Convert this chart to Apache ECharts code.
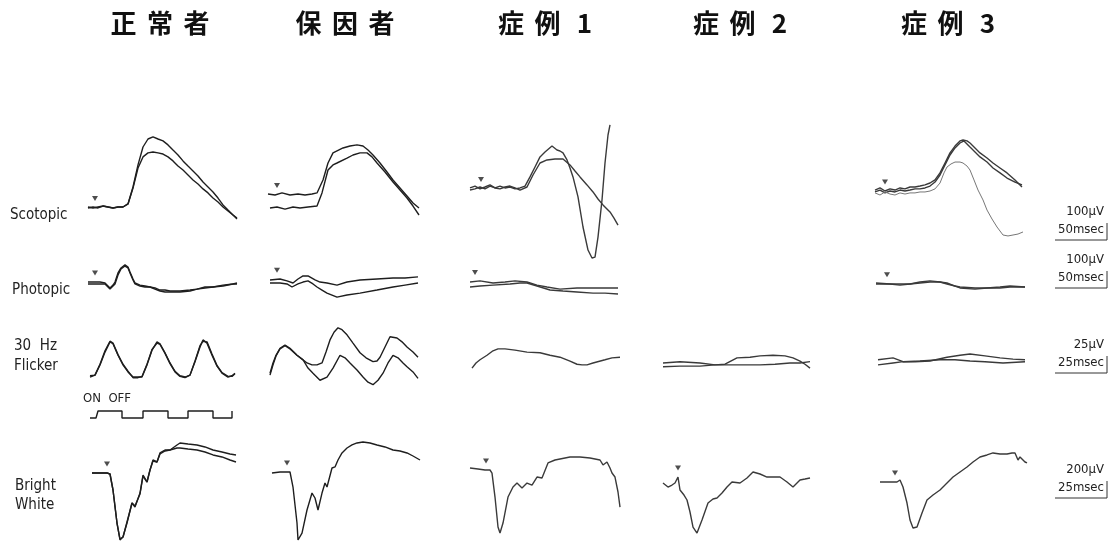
<!DOCTYPE html>
<html>
<head>
<meta charset="utf-8">
<script src="https://cdn.jsdelivr.net/npm/echarts@6/dist/echarts.min.js"></script>
<style>
html,body{margin:0;padding:0;background:#fff;}
#main{width:1112px;height:542px;}
</style>
</head>
<body>
<div id="main"></div>
<script>
// column titles and row labels
var colTitles = ['正常者', '保因者', '症例 1', '症例 2', '症例 3'];
var rowNames = [['Scotopic'], ['Photopic'], ['30  Hz', 'Flicker'], ['Bright', 'White']];
var scaleAmp = ['100\u03bcV', '100\u03bcV', '25\u03bcV', '200\u03bcV'];
var scaleTime = ['50msec', '50msec', '25msec', '25msec'];

// traces: [time ms, amplitude uV]
// Scotopic
var scotNormalA = [[0,0],[5,-6],[10,0],[15,6],[20,0],[25,-6],[30,0],[35,0],[40,19],[45,125],[50,263],[55,375],[60,425],[65,438],[70,425],[75,413],[80,388],[85,356],[90,325],[95,288],[100,256],[105,225],[110,194],[115,156],[120,125],[125,94],[130,56],[135,13],[140,-19],[145,-50],[149,-75]];
var scotNormalB = [[0,-6],[5,0],[10,-6],[15,6],[20,0],[25,-6],[30,0],[35,0],[40,19],[45,119],[50,244],[55,313],[60,338],[65,344],[70,338],[75,331],[80,313],[85,288],[90,256],[95,231],[100,200],[105,169],[110,144],[115,113],[120,88],[125,56],[130,31],[135,0],[140,-25],[145,-50],[149,-69]];
var scotCarrierA = [[0,81],[7,75],[14,88],[22,75],[30,81],[37,75],[44,81],[49,88],[55,169],[60,275],[65,338],[75,369],[82,381],[89,388],[95,381],[100,356],[105,325],[112,275],[119,219],[125,169],[132,119],[139,69],[145,25],[151,-6]];
var scotCarrierB = [[2,-6],[9,0],[17,-13],[25,0],[32,-6],[40,0],[49,6],[54,88],[60,231],[65,263],[69,275],[79,306],[85,325],[92,338],[99,338],[104,313],[109,275],[117,219],[125,156],[132,106],[139,56],[145,6],[151,-50]];
var scotCase1A = [[0,119],[5,131],[10,113],[15,125],[20,138],[25,119],[30,131],[35,119],[40,125],[45,113],[50,119],[55,131],[60,188],[65,250],[70,313],[75,344],[82,381],[87,356],[90,350],[93,338],[97,294],[100,244],[103,188],[108,63],[113,-125],[118,-269],[122,-319],[125,-313],[128,-188],[132,44],[135,275],[138,450],[140,513]];
var scotCase1B = [[0,106],[5,113],[10,125],[15,113],[20,131],[25,119],[30,113],[35,125],[40,131],[45,119],[50,106],[57,125],[63,200],[70,275],[77,294],[85,300],[93,300],[100,263],[105,225],[110,188],[117,138],[123,94],[128,50],[133,13],[140,-31],[144,-69],[148,-113]];
var scotCase3A = [[0,106],[5,119],[10,100],[15,113],[20,106],[25,119],[30,113],[35,125],[40,125],[45,131],[50,138],[55,150],[60,169],[65,213],[70,275],[75,338],[80,381],[85,413],[88,419],[92,413],[95,400],[100,369],[105,338],[112,306],[118,275],[125,244],[132,213],[140,169],[147,125]];
var scotCase3B = [[0,94],[5,106],[10,88],[15,100],[20,94],[25,106],[30,100],[35,106],[40,113],[45,113],[50,119],[55,131],[60,156],[65,200],[70,263],[75,325],[80,369],[85,400],[89,413],[92,394],[95,375],[100,344],[105,313],[112,281],[118,244],[125,213],[132,181],[140,156],[147,138]];
var scotCase3C = [[0,88],[5,75],[10,94],[15,81],[20,75],[25,88],[30,81],[35,88],[40,88],[45,94],[50,94],[55,100],[60,113],[65,150],[69,213],[72,250],[76,269],[80,281],[85,281],[88,275],[92,256],[95,231],[99,169],[103,106],[108,44],[112,-19],[117,-75],[122,-125],[128,-175],[133,-181],[138,-175],[143,-169],[148,-156]];

// Photopic
var photNormalA = [[0,6],[7,6],[12,6],[17,0],[22,-31],[25,-13],[27,6],[30,63],[33,94],[37,113],[40,100],[42,69],[45,25],[47,0],[52,-13],[57,-19],[62,-25],[67,-38],[72,-50],[77,-56],[82,-56],[92,-56],[102,-50],[109,-38],[117,-31],[125,-25],[135,-19],[145,-6],[149,-6]];
var photNormalB = [[0,-6],[7,-6],[12,-6],[17,-6],[22,-38],[25,-19],[27,-6],[30,50],[33,88],[37,106],[40,94],[42,63],[45,19],[47,-6],[52,-19],[57,-25],[62,-25],[67,-31],[72,-44],[77,-44],[82,-50],[92,-50],[102,-44],[109,-38],[117,-25],[125,-25],[135,-13],[145,-6],[149,0]];
var photCarrierA = [[2,19],[12,25],[19,13],[25,0],[30,25],[35,44],[40,44],[47,19],[52,6],[59,0],[69,-13],[79,6],[92,19],[109,25],[125,31],[137,31],[150,38]];
var photCarrierB = [[2,0],[12,0],[19,-6],[24,-25],[30,-6],[35,6],[40,13],[45,-6],[49,-25],[54,-44],[59,-63],[69,-88],[79,-75],[92,-63],[109,-44],[125,-25],[137,-13],[150,0]];
var photCase1A = [[0,6],[10,13],[23,0],[35,6],[45,13],[57,6],[67,-13],[77,-25],[90,-38],[107,-31],[123,-31],[135,-31],[148,-31]];
var photCase1B = [[0,-25],[10,-19],[23,-13],[40,-6],[50,0],[57,0],[67,-19],[80,-44],[93,-50],[107,-56],[123,-63],[135,-63],[148,-69]];
var photCase3A = [[1,0],[15,-6],[25,-6],[35,-6],[45,6],[55,13],[65,6],[72,0],[80,-19],[85,-25],[100,-31],[112,-31],[125,-25],[135,-19],[150,-25]];
var photCase3B = [[1,-6],[15,-6],[25,-13],[35,-6],[45,0],[55,6],[65,6],[72,-6],[80,-19],[85,-31],[100,-38],[112,-31],[125,-31],[135,-25],[150,-25]];

// 30 Hz flicker
var flkNormalA = [[1,-11],[3.5,-8],[6,8],[8.5,28],[11,44],[12.5,41],[15,23],[17.5,8],[20,-3],[22.5,-11],[25,-11],[27,-11],[29.5,8],[32,31],[34.5,44],[36,41],[38.5,27],[41,11],[43.5,-2],[46,-9],[48.5,-11],[51,-8],[53.5,13],[56,36],[57.5,47],[59.5,42],[62,23],[64.5,6],[67,-5],[70,-11],[72,-9],[73.5,-5]];
var flkNormalB = [[1,-9],[3.5,-8],[6,9],[8.5,30],[11,45],[12.5,42],[15,24],[17.5,9],[20,-2],[22.5,-12],[25,-12],[27,-10],[29.5,9],[32,32],[34.5,42],[36,40],[38.5,26],[41,10],[43.5,-3],[46,-10],[48.5,-12],[51,-8],[53.5,14],[56,38],[57.5,45],[59.5,44],[62,25],[64.5,7],[67,-4],[70,-10],[72,-10],[73.5,-6]];
var flkCarrierA = [[1,-5],[2.5,11],[4,23],[6,34],[8.5,39],[11,34],[14.5,23],[17,17],[19.5,11],[22,8],[24.5,8],[27,11],[29,28],[31,47],[33,59],[35,66],[37,63],[39.5,55],[42.5,42],[46,27],[49,19],[52.5,13],[54.5,14],[56,20],[58.5,36],[61,52],[64.5,50],[67,44],[69.5,36],[72.5,28],[75,20]];
var flkCarrierB = [[1,-8],[2.5,8],[4,22],[6,33],[8.5,38],[11,33],[14.5,23],[17.5,16],[20,3],[22.5,-5],[26,-16],[29.5,-11],[32.5,3],[36,23],[38.5,19],[41,11],[44.5,0],[47.5,-11],[50,-19],[52.5,-23],[55,-16],[57.5,-5],[60,11],[62.5,23],[65,19],[67.5,11],[69.5,5],[72.5,-3],[75,-13]];
var flkCase1 = [[1,3],[3,11],[5,16],[8.5,23],[11.5,30],[14,33],[17.5,33],[22.5,31],[28.5,28],[35,27],[40,23],[45,20],[50,14],[53.5,9],[56,8],[58.5,8],[61.5,11],[67.5,16],[71,19],[75,20]];
var flkCase2A = [[0,11],[8.5,13],[18.5,11],[26,8],[31,9],[37,19],[43.5,20],[48.5,22],[55,23],[61,22],[65,19],[68.5,14],[71,9],[73.5,3]];
var flkCase2B = [[0,5],[8.5,6],[18.5,6],[26,8],[33.5,8],[41,8],[48.5,8],[56,9],[63.5,11],[68.5,11],[73.5,13]];
var flkCase3A = [[1.5,16],[9,19],[14,13],[20,13],[27.5,14],[36,20],[42.5,23],[47.5,25],[55,22],[62.5,19],[69,17],[75,16]];
var flkCase3B = [[1.5,8],[9,11],[14,13],[22.5,14],[32.5,16],[40,16],[47.5,14],[55,13],[64,11],[75,13]];
// flicker stimulus (0 = off, 1 = on)
var stimOnOff = [[1,0],[4,0],[5,1],[17,1],[17,0],[27.5,0],[27.5,1],[40,1],[40,0],[50,0],[50,1],[62.5,1],[62.5,0],[72,0],[72,1]];

// Bright white
var bwNormalA = [[2,-38],[6,-38],[9.5,-38],[11,-50],[12.5,-250],[14.5,-663],[16,-875],[17.5,-838],[19.5,-663],[22,-413],[23.5,-463],[24.5,-475],[26,-288],[27.5,-63],[29.5,-150],[31,0],[32.5,125],[34.5,100],[36,213],[38.5,250],[41,250],[44.5,313],[46,338],[50,325],[54.5,313],[58.5,288],[62.5,250],[67,225],[71,200],[74,188]];
var bwNormalB = [[2,-38],[6,-38],[9.5,-38],[11,-50],[12.5,-250],[14.5,-663],[16,-863],[17.5,-838],[19.5,-650],[22,-413],[23.5,-450],[24.5,-475],[26,-300],[27.5,-75],[29.5,-150],[31,0],[32.5,113],[34.5,100],[36,200],[38.5,238],[41,250],[44.5,275],[46,275],[50,263],[54.5,250],[58.5,225],[62.5,188],[67,163],[71,125],[74,100]];
var bwCarrier = [[2,-38],[6,-25],[9.5,-25],[11,-25],[12.5,-213],[14.5,-663],[15,-875],[17,-788],[19.5,-500],[22,-288],[23.5,-350],[25,-500],[27,-288],[28.5,-163],[29.5,-213],[32,25],[33.5,38],[35,125],[37,213],[39.5,275],[42,313],[44.5,338],[47.5,350],[51,338],[54.5,313],[58.5,288],[62.5,250],[66,238],[69.5,213],[72.5,175],[76,125]];
var bwCase1 = [[0,25],[4,13],[7.5,0],[10,0],[11,-38],[12.5,-338],[14,-713],[15,-788],[16.5,-663],[19,-338],[21.5,-213],[23.5,-163],[26,-225],[28.5,-163],[31,-188],[33.5,-88],[36,-100],[39,88],[42.5,125],[45,138],[50,163],[55,163],[60,150],[65,125],[66.5,63],[68.5,100],[70,25],[71,-38],[72.5,-88],[74,-275],[75,-463]];
var bwCase2 = [[0,-163],[2.5,-213],[4.5,-188],[6,-163],[7.5,-88],[8.5,-250],[10.5,-313],[12,-375],[13.5,-525],[15,-713],[17,-788],[19.5,-625],[22.5,-413],[25,-363],[27,-350],[29.5,-288],[32,-213],[34.5,-150],[38.5,-163],[42,-100],[45,-25],[48.5,-50],[52,-88],[55,-88],[58.5,-88],[62,-150],[65,-213],[68.5,-125],[71,-113],[73.5,-100]];
var bwCase3 = [[2.5,-150],[7.5,-150],[11,-150],[12.5,-125],[14,-213],[16,-413],[17.5,-625],[19,-725],[21,-713],[23.5,-538],[26,-375],[29,-313],[32.5,-250],[36,-163],[39,-88],[42.5,-25],[46,38],[49,100],[52.5,163],[56,188],[59,213],[62.5,200],[66,200],[68.5,213],[70,213],[71.5,125],[72.5,163],[73.5,150],[75,100],[76,88]];

// stimulus onset (ms) per panel
var onsetScot = [7, 9, 11, null, 10];
var onsetPhot = [7, 9, 5, null, 12];
var onsetBright = [9.5, 9.5, 8, 7.5, 10];

var colLeft = [88, 268, 470, 663, 875];
var panelW = 155;
// row layout: pixel band, pixel of zero level, uV per pixel, ms per pixel
var rows = {
	scot:  {top:115, height:160, ref:207, uv:6.25,   ms:1},
	phot:  {top:255, height:50,  ref:283, uv:6.25,   ms:1},
	flk:   {top:320, height:75,  ref:370, uv:1.5625, ms:0.5},
	stim:  {top:411, height:7},
	bright:{top:435, height:107, ref:470, uv:12.5,   ms:0.5}
};

var panels = [
	{row:'scot', col:0, traces:[scotNormalA, scotNormalB], onset:onsetScot[0]},
	{row:'scot', col:1, traces:[scotCarrierA, scotCarrierB], onset:onsetScot[1]},
	{row:'scot', col:2, traces:[scotCase1A, scotCase1B], onset:onsetScot[2]},
	{row:'scot', col:4, traces:[scotCase3A, scotCase3B, scotCase3C], onset:onsetScot[4], light:[2]},
	{row:'phot', col:0, traces:[photNormalA, photNormalB], onset:onsetPhot[0]},
	{row:'phot', col:1, traces:[photCarrierA, photCarrierB], onset:onsetPhot[1]},
	{row:'phot', col:2, traces:[photCase1A, photCase1B], onset:onsetPhot[2]},
	{row:'phot', col:4, traces:[photCase3A, photCase3B], onset:onsetPhot[4]},
	{row:'flk', col:0, traces:[flkNormalA, flkNormalB]},
	{row:'flk', col:1, traces:[flkCarrierA, flkCarrierB]},
	{row:'flk', col:2, traces:[flkCase1]},
	{row:'flk', col:3, traces:[flkCase2A, flkCase2B]},
	{row:'flk', col:4, traces:[flkCase3A, flkCase3B]},
	{row:'stim', col:0, traces:[stimOnOff]},
	{row:'bright', col:0, traces:[bwNormalA, bwNormalB], onset:onsetBright[0]},
	{row:'bright', col:1, traces:[bwCarrier], onset:onsetBright[1]},
	{row:'bright', col:2, traces:[bwCase1], onset:onsetBright[2]},
	{row:'bright', col:3, traces:[bwCase2], onset:onsetBright[3]},
	{row:'bright', col:4, traces:[bwCase3], onset:onsetBright[4]}
];

//取刺激点处的波形值
function valueAt(tr, t){
	for (var i = 1; i < tr.length; i++) {
		if (tr[i][0] >= t) {
			var a = tr[i-1], b = tr[i];
			return a[1] + (b[1]-a[1]) * (t-a[0]) / ((b[0]-a[0]) || 1);
		}
	}
	return tr[tr.length-1][1];
}

var grids = [], xAxes = [], yAxes = [], series = [];
panels.forEach(function(p, i){
	var r = rows[p.row];
	grids.push({left:colLeft[p.col], top:r.top, width:panelW, height:r.height});
	if (p.row == 'stim') {
		xAxes.push({type:'value', gridIndex:i, min:0, max:panelW*0.5, show:false});
		yAxes.push({type:'value', gridIndex:i, min:0, max:1, show:false});
	} else {
		xAxes.push({type:'value', gridIndex:i, min:0, max:panelW*r.ms, show:false});
		yAxes.push({type:'value', gridIndex:i, min:(r.ref-r.top-r.height)*r.uv, max:(r.ref-r.top)*r.uv, show:false});
	}
	var dark = p.col < 2 ? '#1e1e1e' : '#3a3a3a';
	p.traces.forEach(function(tr, k){
		var light = p.light && p.light.indexOf(k) >= 0;
		series.push({
			type:'line', xAxisIndex:i, yAxisIndex:i, data:tr,
			showSymbol:false, clip:false, silent:true, animation:false,
			lineStyle:{color: light ? '#777' : dark, width: light ? 1 : 1.4}
		});
	});
	if (p.onset != null) {
		series.push({
			type:'scatter', xAxisIndex:i, yAxisIndex:i, silent:true, animation:false,
			data:[[p.onset, valueAt(p.traces[0], p.onset)]],
			symbol:'triangle', symbolRotate:180, symbolSize:[6,5], symbolOffset:[0,-9],
			itemStyle:{color:'#222'}
		});
	}
});

// 标题、行名、比例尺
var labelFont = '"DejaVu Sans Condensed", "Liberation Sans Narrow", sans-serif';
var graphics = [];
var titleX = [160, 345, 545, 740, 948];
colTitles.forEach(function(t, i){
	graphics.push({type:'text', x:titleX[i], y:23, style:{text:t.replace(/(\S)(?=.)/g, '$1\u2009\u2009'), textAlign:'center', textVerticalAlign:'middle',
		font:'bold 26px "Noto Sans CJK JP", sans-serif', fill:'#111'}});
});
var labelY = [[215], [290], [346, 366], [486, 505]];
var labelX = [10, 12, 14, 15];
rowNames.forEach(function(lines, i){
	lines.forEach(function(s, k){
		graphics.push({type:'text', x:labelX[i], y:labelY[i][k], style:{text:s, textVerticalAlign:'middle',
			font:'15px ' + labelFont, fill:'#222'}});
	});
});
graphics.push({type:'text', x:83, y:399, style:{text:'ON  OFF', textVerticalAlign:'middle',
	font:'13px ' + labelFont, fill:'#222'}});
var barBottom = [240, 288, 373, 498];
barBottom.forEach(function(b, i){
	graphics.push({type:'text', x:1104, y:b-28, style:{text:scaleAmp[i], textAlign:'right', textVerticalAlign:'middle',
		font:'13px ' + labelFont, fill:'#222'}});
	graphics.push({type:'text', x:1104, y:b-10, style:{text:scaleTime[i], textAlign:'right', textVerticalAlign:'middle',
		font:'13px ' + labelFont, fill:'#222'}});
	graphics.push({type:'polyline', shape:{points:[[1055,b],[1107,b],[1107,b-17]]}, style:{stroke:'#333', lineWidth:1, fill:null}});
});

var myChart = echarts.init(document.getElementById('main'));
myChart.setOption({
	backgroundColor:'#fff',
	animation:false,
	grid:grids, xAxis:xAxes, yAxis:yAxes,
	series:series,
	graphic:graphics
});
</script>
</body>
</html>
